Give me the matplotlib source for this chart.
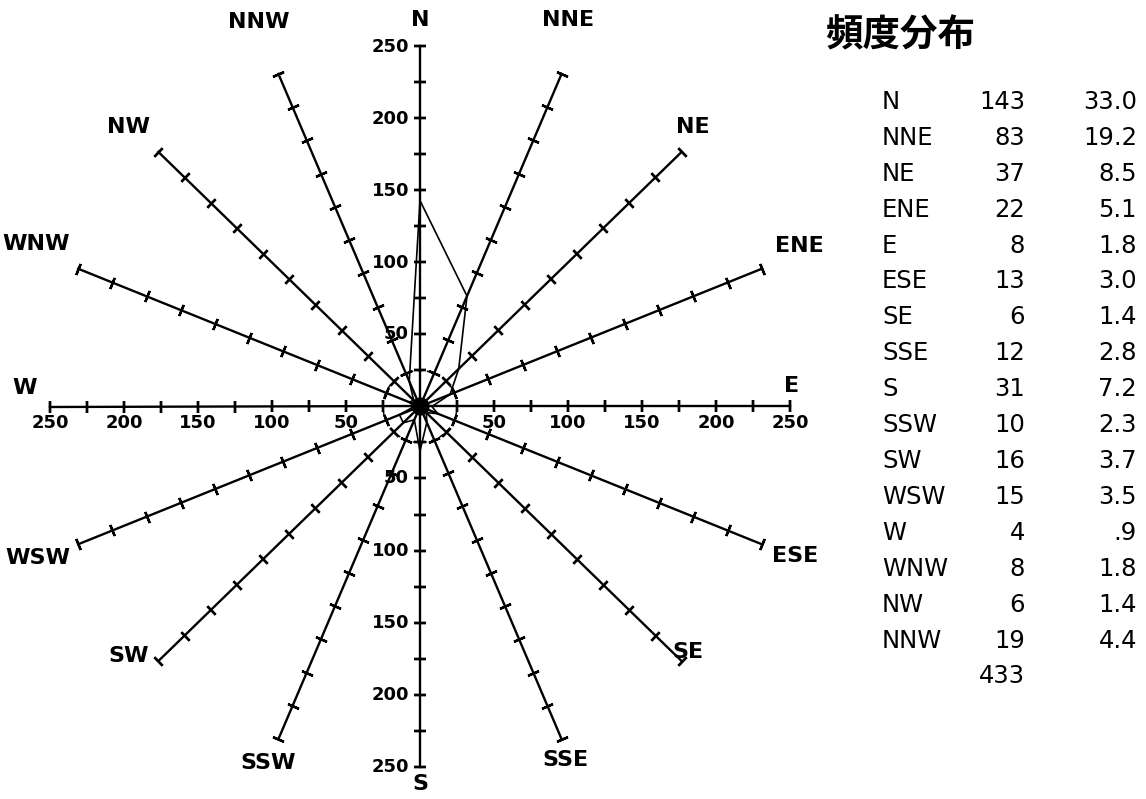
import numpy as np
import matplotlib
matplotlib.use("Agg")
import matplotlib.pyplot as plt

# wind rose data (16 directions, clockwise from N)
directions = ["N", "NNE", "NE", "ENE", "E", "ESE", "SE", "SSE",
              "S", "SSW", "SW", "WSW", "W", "WNW", "NW", "NNW"]
counts = [143, 83, 37, 22, 8, 13, 6, 12, 31, 10, 16, 15, 4, 8, 6, 19]
percents = [33.0, 19.2, 8.5, 5.1, 1.8, 3.0, 1.4, 2.8,
            7.2, 2.3, 3.7, 3.5, 0.9, 1.8, 1.4, 4.4]
scale_ticks = [50, 100, 150, 200, 250]
title = "頻度分布"

# label placement relative to spoke tips, in pixels (x right, y up)
label_offsets = [(0, 26), (6, 54), (11, 25), (38, 23), (2, 20), (33, -12),
                 (6, 9), (4, -21), (0, -17), (-10, -24), (-30, 5), (-40, -14),
                 (-25, 18), (-42, 25), (-30, 25), (-20, 52)]

W, H = 1146, 799
R = 250
cx, cy = 420, 406.5      # centre of rose in pixels
sx, sy = 1.48, 1.44      # pixels per unit

fig = plt.figure(figsize=(W / 100, H / 100), dpi=100)
ax = fig.add_axes([0, 0, 1, 1])
ax.set_xlim(-cx / sx, (W - cx) / sx)
ax.set_ylim(-(H - cy) / sy, cy / sy)
ax.axis("off")

bearings = np.arange(16) * 22.5
rad = np.deg2rad(bearings)
tick_r = np.arange(25, R + 1, 25)

for name, b, t, off in zip(directions, bearings, rad, label_offsets):
    ux, uy = np.sin(t), np.cos(t)
    ax.plot([0, R * ux], [0, R * uy], color="black", lw=1.7, zorder=2)
    ang = np.degrees(np.arctan2(uy * sy, ux * sx))
    ax.plot(tick_r * ux, tick_r * uy, ls="none", color="black",
            marker=(2, 2, ang), markersize=8.5, markeredgewidth=1.7, zorder=2)
    ax.annotate(name, (R * ux, R * uy), xytext=off, textcoords="offset pixels",
                ha="center", va="center", fontsize=16, fontweight="bold")

# scale labels on the N-S and W-E axes
for v in scale_ticks:
    for sgn in (1, -1):
        ax.annotate(str(v), (0, sgn * v), xytext=(-11, 0), textcoords="offset pixels",
                    ha="right", va="center", fontsize=13, fontweight="bold")
        ax.annotate(str(v), (sgn * v, 0), xytext=(0, -17), textcoords="offset pixels",
                    ha="center", va="center", fontsize=13, fontweight="bold")

# dashed inner circle
th = np.linspace(0, 2 * np.pi, 200)
ax.plot(25 * np.cos(th), 25 * np.sin(th), color="black", lw=1.1,
        dashes=(3, 3), zorder=2)
ax.plot([0], [0], "o", color="black", markersize=12, zorder=3)

# frequency polygon
cnt = np.array(counts + counts[:1], dtype=float)
rr = np.append(rad, rad[0])
ax.plot(cnt * np.sin(rr), cnt * np.cos(rr), color="black", lw=1.2, zorder=3)

# frequency table
fig.text(900 / W, 1 - 35 / H, title, fontsize=27, fontweight="bold",
         family=["Noto Sans CJK JP", "DejaVu Sans"], ha="center", va="center")
row0, dy = 102, 35.9
for i, (name, c, p) in enumerate(zip(directions, counts, percents)):
    y = 1 - (row0 + i * dy) / H
    ptxt = f"{p:.1f}"
    if ptxt.startswith("0"):
        ptxt = ptxt[1:]
    fig.text(882 / W, y, name, fontsize=17.5, ha="left", va="center")
    fig.text(1025 / W, y, str(c), fontsize=17.5, ha="right", va="center")
    fig.text(1137 / W, y, ptxt, fontsize=17.5, ha="right", va="center")
fig.text(1025 / W, 1 - (row0 + 16 * dy) / H, str(sum(counts)), fontsize=17.5,
         ha="right", va="center")

plt.savefig("out.png", dpi=100)
